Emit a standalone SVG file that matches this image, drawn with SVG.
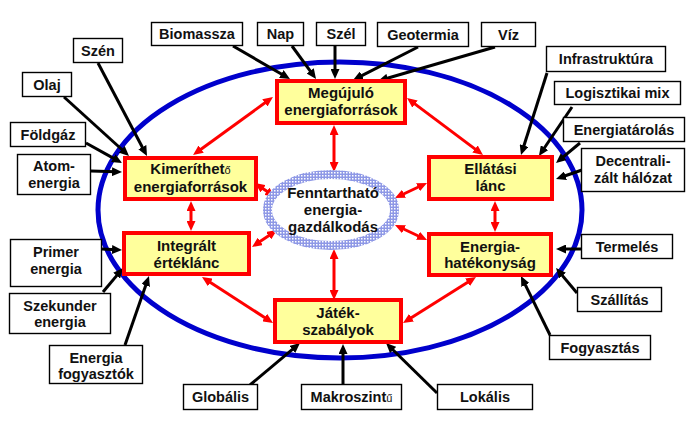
<svg xmlns="http://www.w3.org/2000/svg" width="699" height="438" viewBox="0 0 699 438">
<style>
.lb{fill:#fff;stroke:#000;stroke-width:1.4}
.mb{fill:#ffff9c;stroke:#ff0000;stroke-width:4}
.t{font-family:"Liberation Sans",Arial,sans-serif;font-weight:bold;font-size:14.5px;fill:#111;text-anchor:middle}
.tm{font-family:"Liberation Sans",Arial,sans-serif;font-weight:bold;font-size:15px;fill:#111;text-anchor:middle}
.ba{stroke:#000;stroke-width:3;fill:none;marker-end:url(#ah)}
.ra{stroke:#ff0000;stroke-width:3;fill:none;marker-end:url(#rh);marker-start:url(#rh)}
.sm{font-weight:normal;font-size:11px}
</style>
<defs>
<marker id="ah" markerUnits="userSpaceOnUse" markerWidth="10" markerHeight="9" refX="4" refY="4.5" orient="auto"><path d="M0,0 L10,4.5 L0,9 z" fill="#000"/></marker>
<marker id="rh" markerUnits="userSpaceOnUse" markerWidth="10" markerHeight="9" refX="4" refY="4.5" orient="auto-start-reverse"><path d="M0,0 L10,4.5 L0,9 z" fill="#ff0000"/></marker>
<pattern id="hatch" width="3" height="3" patternUnits="userSpaceOnUse"><rect width="3" height="3" fill="#8e98e6"/><rect x="1" y="1" width="1.5" height="1.5" fill="#ffffff"/></pattern>
</defs>
<rect width="699" height="438" fill="#fff"/>
<ellipse id="outer" cx="340" cy="210" rx="242" ry="148" fill="none" stroke="#0000cc" stroke-width="5"/>
<g id="connectors">
<line class="ba" x1="233" y1="46" x2="284.8" y2="76"/>
<line class="ba" x1="292" y1="46" x2="312.5" y2="74.1"/>
<line class="ba" x1="335" y1="46" x2="335" y2="73"/>
<line class="ba" x1="418" y1="47" x2="358.4" y2="77.3"/>
<line class="ba" x1="495" y1="47" x2="383.8" y2="79.3"/>
<line class="ba" x1="98" y1="63" x2="144.2" y2="150.7"/>
<line class="ba" x1="64" y1="97" x2="124.6" y2="152"/>
<line class="ba" x1="86" y1="143" x2="116.8" y2="160.1"/>
<line class="ba" x1="91" y1="171" x2="116" y2="171.8"/>
<line class="ba" x1="102" y1="249" x2="116" y2="249.7"/>
<line class="ba" x1="103" y1="292" x2="119.2" y2="272.6"/>
<line class="ba" x1="125" y1="345" x2="147" y2="281.7"/>
<line class="ba" x1="547" y1="73" x2="522.8" y2="149.3"/>
<line class="ba" x1="572" y1="107" x2="542.3" y2="151"/>
<line class="ba" x1="580" y1="143" x2="560.6" y2="159.2"/>
<line class="ba" x1="582" y1="170" x2="561.7" y2="177"/>
<line class="ba" x1="581" y1="249" x2="562" y2="249"/>
<line class="ba" x1="577" y1="293" x2="559.9" y2="272.6"/>
<line class="ba" x1="550" y1="335" x2="523.6" y2="281.4"/>
<line class="ba" x1="250" y1="385" x2="295.4" y2="346.9"/>
<line class="ba" x1="343" y1="384" x2="343" y2="350"/>
<line class="ba" x1="437" y1="393" x2="390.3" y2="347.2"/>
<line class="ra" x1="197.9" y1="151.5" x2="268.1" y2="100.5"/>
<line class="ra" x1="411.8" y1="101.6" x2="478.2" y2="151.4"/>
<line class="ra" x1="334" y1="131" x2="334" y2="166"/>
<line class="ra" x1="191" y1="207" x2="191" y2="225"/>
<line class="ra" x1="259.9" y1="186.4" x2="270.1" y2="193.6"/>
<line class="ra" x1="257" y1="243.6" x2="272" y2="233.4"/>
<line class="ra" x1="421.6" y1="185.5" x2="400.4" y2="195.5"/>
<line class="ra" x1="421.6" y1="237.5" x2="400.4" y2="227.5"/>
<line class="ra" x1="495" y1="207" x2="495" y2="226"/>
<line class="ra" x1="334" y1="255" x2="334" y2="294"/>
<line class="ra" x1="207" y1="280.3" x2="268" y2="319.7"/>
<line class="ra" x1="470.9" y1="280.2" x2="408.1" y2="319.8"/>
</g>
<g id="center">
<ellipse cx="331" cy="210" rx="63.5" ry="35.5" fill="#fff" stroke="url(#hatch)" stroke-width="9"/>
<text class="tm" x="333" y="198">Fenntartható</text>
<text class="tm" x="333" y="215">energia-</text>
<text class="tm" x="333" y="232">gazdálkodás</text>
</g>
<g id="megujulo"><rect class="mb" x="277" y="81" width="128" height="42"/><text class="tm" x="341" y="98">Megújuló</text><text class="tm" x="341" y="115">energiaforrások</text></g>
<g id="kimerith"><rect class="mb" x="125" y="158" width="131" height="41"/><text class="tm" x="190.5" y="174">Kimeríthet<tspan class="sm">ő</tspan></text><text class="tm" x="190.5" y="192">energiaforrások</text></g>
<g id="integralt"><rect class="mb" x="124" y="233" width="125" height="41"/><text class="tm" x="186.5" y="251">Integrált</text><text class="tm" x="186.5" y="268">értéklánc</text></g>
<g id="ellatasi"><rect class="mb" x="429" y="157" width="123" height="42"/><text class="tm" x="490.5" y="174">Ellátási</text><text class="tm" x="490.5" y="191">lánc</text></g>
<g id="hatekonysag"><rect class="mb" x="429" y="234" width="122" height="41"/><text class="tm" x="490" y="252">Energia-</text><text class="tm" x="490" y="268">hatékonyság</text></g>
<g id="jatek"><rect class="mb" x="275" y="300" width="126" height="42"/><text class="tm" x="338" y="318">Játék-</text><text class="tm" x="338" y="335">szabályok</text></g>
<g id="biomassza"><rect class="lb" x="151.5" y="22.5" width="91" height="23"/><text class="t" x="197" y="39">Biomassza</text></g>
<g id="nap"><rect class="lb" x="257.5" y="22.5" width="46" height="23"/><text class="t" x="280.5" y="39">Nap</text></g>
<g id="szel"><rect class="lb" x="316.5" y="22.5" width="49" height="23"/><text class="t" x="341" y="39">Szél</text></g>
<g id="geotermia"><rect class="lb" x="377.5" y="22.5" width="91" height="24"/><text class="t" x="423" y="39.5">Geotermia</text></g>
<g id="viz"><rect class="lb" x="481.5" y="22.5" width="54" height="24"/><text class="t" x="508.5" y="39.5">Víz</text></g>
<g id="szen"><rect class="lb" x="73.5" y="38.5" width="49" height="24"/><text class="t" x="98" y="55.5">Szén</text></g>
<g id="olaj"><rect class="lb" x="22.5" y="72.5" width="49" height="24"/><text class="t" x="47" y="89.5">Olaj</text></g>
<g id="foldgaz"><rect class="lb" x="10.5" y="122.5" width="75" height="24"/><text class="t" x="48" y="139.5">Földgáz</text></g>
<g id="atom"><rect class="lb" x="17.5" y="154.5" width="73" height="40"/><text class="t" x="54" y="171">Atom-</text><text class="t" x="54" y="188">energia</text></g>
<g id="primer"><rect class="lb" x="10.5" y="239.5" width="91" height="47"/><text class="t" x="56" y="257">Primer</text><text class="t" x="56" y="274">energia</text></g>
<g id="szekunder"><rect class="lb" x="9.5" y="293.5" width="101" height="40"/><text class="t" x="60" y="311">Szekunder</text><text class="t" x="60" y="327">energia</text></g>
<g id="fogyasztok"><rect class="lb" x="49.5" y="345.5" width="93" height="38"/><text class="t" x="96" y="363">Energia</text><text class="t" x="96" y="379">fogyasztók</text></g>
<g id="globalis"><rect class="lb" x="183.5" y="384.5" width="74" height="25"/><text class="t" x="220.5" y="402">Globális</text></g>
<g id="makro"><rect class="lb" x="301.5" y="384.5" width="100" height="25"/><text class="t" x="351.5" y="402">Makroszint<tspan class="sm">ű</tspan></text></g>
<g id="lokalis"><rect class="lb" x="437.5" y="384.5" width="95" height="25"/><text class="t" x="485" y="402">Lokális</text></g>
<g id="fogyasztas"><rect class="lb" x="549.5" y="335.5" width="101" height="24"/><text class="t" x="600" y="352.5">Fogyasztás</text></g>
<g id="szallitas"><rect class="lb" x="577.5" y="287.5" width="84" height="24"/><text class="t" x="619.5" y="304.5">Szállítás</text></g>
<g id="termeles"><rect class="lb" x="581.5" y="234.5" width="91" height="24"/><text class="t" x="627" y="251.5">Termelés</text></g>
<g id="decentral"><rect class="lb" x="581.5" y="148.5" width="103" height="43"/><text class="t" x="633" y="166">Decentrali-</text><text class="t" x="633" y="183">zált hálózat</text></g>
<g id="energiatarolas"><rect class="lb" x="563.5" y="117.5" width="121" height="24"/><text class="t" x="624" y="134.5">Energiatárolás</text></g>
<g id="logisztikai"><rect class="lb" x="554.5" y="81.5" width="126" height="23"/><text class="t" x="617.5" y="98">Logisztikai mix</text></g>
<g id="infra"><rect class="lb" x="546.5" y="46.5" width="119" height="25"/><text class="t" x="606" y="64">Infrastruktúra</text></g>
</svg>
